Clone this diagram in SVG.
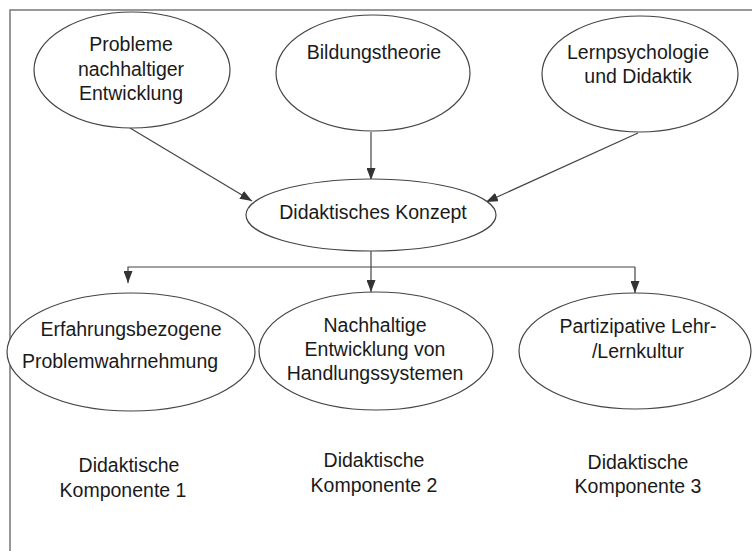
<svg xmlns="http://www.w3.org/2000/svg" width="752" height="551" viewBox="0 0 752 551">
<defs>
<marker id="ah" viewBox="0 0 12 9" refX="12" refY="4.5" markerWidth="12" markerHeight="9" markerUnits="userSpaceOnUse" orient="auto">
<path d="M0,0 L12,4.5 L0,9 Z" fill="#333"/>
</marker>
</defs>
<style>
.n{fill:#fff;stroke:#444;stroke-width:1.2}
.t{font-family:"Liberation Sans",Arial,sans-serif;font-size:19.5px;fill:#1a1a1a;text-anchor:middle}
.c{fill:none;stroke:#444;stroke-width:1.2}
.f{fill:none;stroke:#777;stroke-width:1.5}
</style>
<rect width="752" height="551" fill="#fff"/>
<g id="frame">
<path class="f" d="M10,551 L10,10 L752,10"/>
</g>
<g id="connectors">
<path class="c" d="M130,128 L252,201" marker-end="url(#ah)"/>
<path class="c" d="M371,132 L371,180" marker-end="url(#ah)"/>
<path class="c" d="M638,133 L486,202" marker-end="url(#ah)"/>
<path class="c" d="M371,251 L371,292" marker-end="url(#ah)"/>
<path class="c" d="M635,267 L128,267 L128,283" marker-end="url(#ah)"/>
<path class="c" d="M635,267 L635,293" marker-end="url(#ah)"/>
</g>
<g id="n1">
<ellipse class="n" cx="132" cy="70" rx="98" ry="58"/>
<text class="t" x="131" y="51">Probleme</text>
<text class="t" x="131" y="76">nachhaltiger</text>
<text class="t" x="131" y="100">Entwicklung</text>
</g>
<g id="n2">
<ellipse class="n" cx="373" cy="73" rx="97" ry="58"/>
<text class="t" x="374" y="59">Bildungstheorie</text>
</g>
<g id="n3">
<ellipse class="n" cx="640" cy="74" rx="98" ry="58"/>
<text class="t" x="638" y="59">Lernpsychologie</text>
<text class="t" x="638" y="83">und Didaktik</text>
</g>
<g id="n4">
<ellipse class="n" cx="371" cy="215" rx="125" ry="36"/>
<text class="t" x="373" y="219">Didaktisches Konzept</text>
</g>
<g id="n5">
<ellipse class="n" cx="131" cy="352" rx="124" ry="59"/>
<text class="t" x="131" y="336">Erfahrungsbezogene</text>
<text class="t" x="120" y="368">Problemwahrnehmung</text>
</g>
<g id="n6">
<ellipse class="n" cx="376" cy="351" rx="117" ry="59"/>
<text class="t" x="375" y="332">Nachhaltige</text>
<text class="t" x="375" y="356">Entwicklung von</text>
<text class="t" x="375" y="380">Handlungssystemen</text>
</g>
<g id="n7">
<ellipse class="n" cx="635" cy="351" rx="116" ry="58"/>
<text class="t" x="638" y="333">Partizipative Lehr-</text>
<text class="t" x="638" y="358">/Lernkultur</text>
</g>
<g id="labels">
<text class="t" x="129" y="472">Didaktische</text>
<text class="t" x="123" y="497">Komponente 1</text>
<text class="t" x="374" y="467">Didaktische</text>
<text class="t" x="374" y="492">Komponente 2</text>
<text class="t" x="638" y="469">Didaktische</text>
<text class="t" x="638" y="493">Komponente 3</text>
</g>
</svg>
